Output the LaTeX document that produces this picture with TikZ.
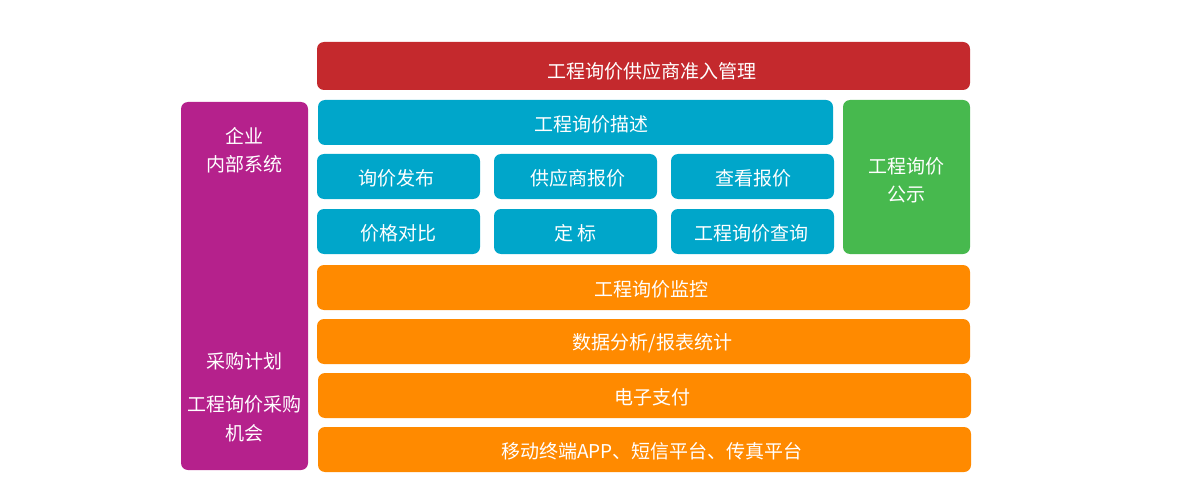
\documentclass[tikz,border=0pt]{standalone}
\usepackage{fontspec}
\setmainfont{Noto Sans CJK SC}
\definecolor{cred}{HTML}{C4292D}
\definecolor{cblue}{HTML}{00A6CA}
\definecolor{cgreen}{HTML}{47B94E}
\definecolor{cpurple}{HTML}{B5218C}
\definecolor{corange}{HTML}{FF8A00}
\tikzset{
  blk/.style={rounded corners=7pt, inner sep=0pt},
  lbl/.style={inner sep=0pt, text=white, font=\fontsize{19}{28.5}\selectfont, align=center}
}
\newcommand{\blkat}[8][]{%
  \node[blk, fill=#7, minimum width={(#5)-(#3)}, minimum height={(#6)-(#4)}] (#2) at ({((#3)+(#5))/2},{((#4)+(#6))/2}) {};
  \node[lbl, yshift=-1.5pt, #1] (#2-t) at (#2.center) {#8};}
\begin{document}
\begin{tikzpicture}[x=1pt,y=-1pt]
\useasboundingbox (0,0) rectangle (1200,500);
\blkat[xshift=8pt, yshift=-3.5pt]{top}{317}{42}{970}{90}{cred}{工程询价供应商准入管理}
\node[blk, fill=cpurple, minimum width=127pt, minimum height=368pt] (side) at (244.5,286) {};
\node[lbl] (s1) at (244.5,150) {企业\\内部系统};
\node[lbl] (s2) at (244.5,361.5) {采购计划};
\node[lbl] (s3) at (244.5,419) {工程询价采购\\机会};
\blkat[xshift=16pt]{desc}{318}{100}{833}{145}{cblue}{工程询价描述}
\blkat[yshift=-2pt]{pub}{843}{100}{970}{254}{cgreen}{工程询价\\公示}
\blkat[xshift=-2pt, yshift=-0.5pt]{a1}{317}{154}{480}{199}{cblue}{询价发布}
\blkat[xshift=2pt, yshift=-0.5pt]{a2}{494}{154}{657}{199}{cblue}{供应商报价}
\blkat[xshift=1pt, yshift=-0.5pt]{a3}{671}{154}{834}{199}{cblue}{查看报价}
\blkat{b1}{317}{209}{480}{254}{cblue}{价格对比}
\blkat{b2}{494}{209}{657}{254}{cblue}{定\ 标}
\blkat[xshift=-1pt]{b3}{671}{209}{834}{254}{cblue}{工程询价查询}
\blkat[xshift=7.5pt]{o1}{317}{265}{970}{310}{corange}{工程询价监控}
\blkat[xshift=9pt]{o2}{317}{319}{970}{364}{corange}{数据分析/报表统计}
\blkat[xshift=8pt]{o3}{318}{373}{971}{418}{corange}{电子支付}
\blkat[xshift=7.5pt]{o4}{318}{427}{971}{472}{corange}{移动终端APP、短信平台、传真平台}
\end{tikzpicture}
\end{document}
